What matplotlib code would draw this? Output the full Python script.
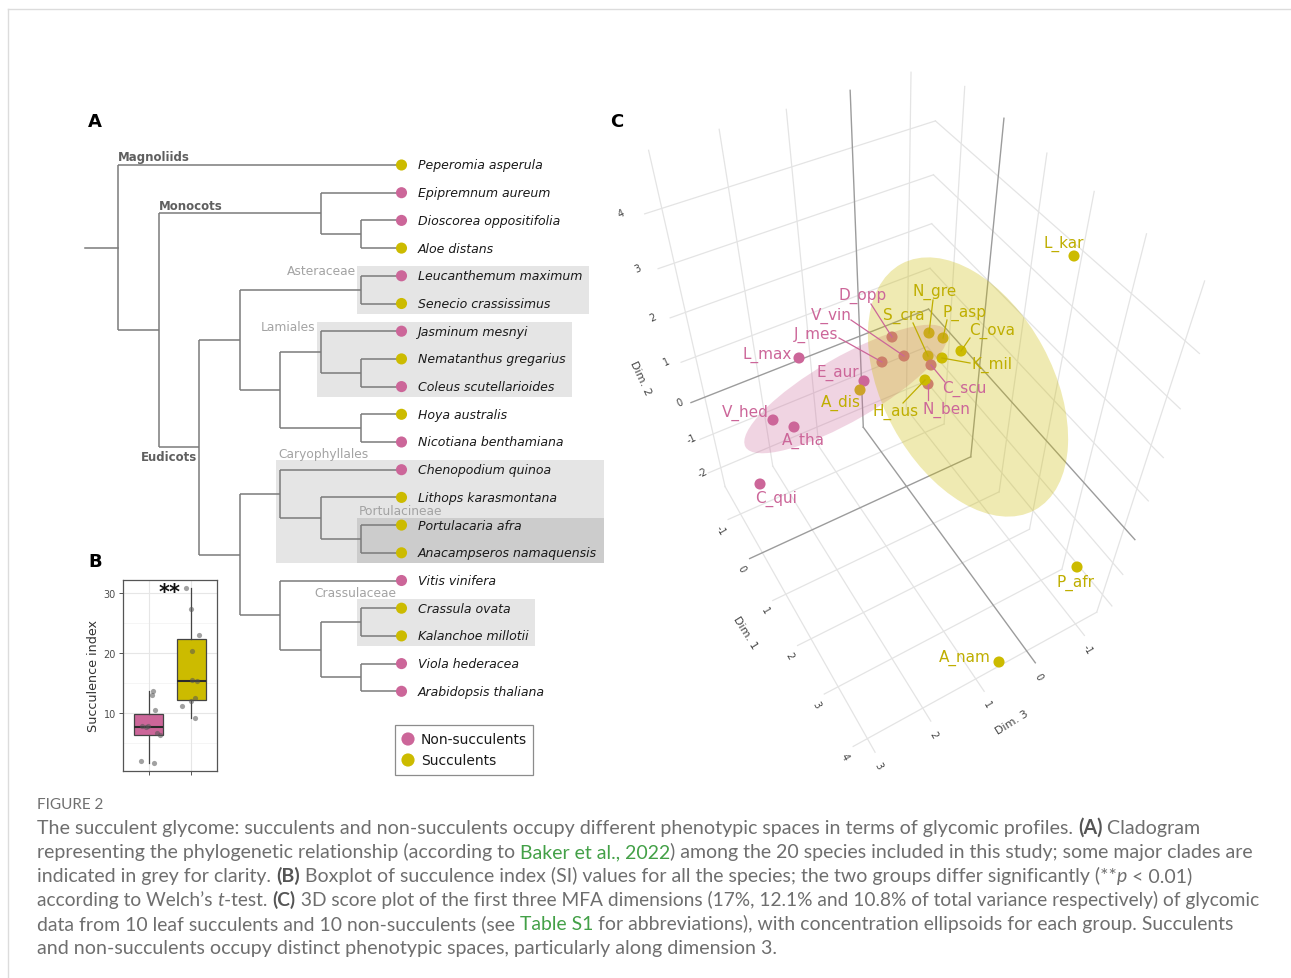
import numpy as np
import matplotlib
matplotlib.use("Agg")
import matplotlib.pyplot as plt
from matplotlib.patches import Ellipse, Rectangle

W, H = 1291, 979

# ------------------------------------------------------------------ data
PINK = "#CC6699"
YELLOW = "#CCBB00"
YELLOW_TXT = "#BFAE00"

tree = ["Peperomia asperula",
        [["Epipremnum aureum", ["Dioscorea oppositifolia", "Aloe distans"]],
         [[["Leucanthemum maximum", "Senecio crassissimus"],
           [["Jasminum mesnyi", ["Nematanthus gregarius", "Coleus scutellarioides"]],
            ["Hoya australis", "Nicotiana benthamiana"]]],
          [["Chenopodium quinoa", ["Lithops karasmontana",
                                   ["Portulacaria afra", "Anacampseros namaquensis"]]],
           ["Vitis vinifera", [["Crassula ovata", "Kalanchoe millotii"],
                               ["Viola hederacea", "Arabidopsis thaliana"]]]]]]]

succulent_species = ["Peperomia asperula", "Aloe distans", "Senecio crassissimus",
                     "Nematanthus gregarius", "Hoya australis", "Lithops karasmontana",
                     "Portulacaria afra", "Anacampseros namaquensis", "Crassula ovata",
                     "Kalanchoe millotii"]

minor_clades = ["Asteraceae", "Lamiales", "Caryophyllales", "Portulacineae", "Crassulaceae"]
minor_clade_tips = [("Leucanthemum maximum", "Senecio crassissimus"),
                    ("Jasminum mesnyi", "Coleus scutellarioides"),
                    ("Chenopodium quinoa", "Anacampseros namaquensis"),
                    ("Portulacaria afra", "Anacampseros namaquensis"),
                    ("Crassula ovata", "Kalanchoe millotii")]

groups = ["Non-succulents", "Succulents"]
si_non = [13.6, 13.0, 10.5, 7.9, 7.8, 7.6, 6.6, 6.3, 2.0, 1.7]
si_suc = [30.8, 27.3, 23.0, 20.3, 15.5, 15.3, 12.45, 12.05, 11.1, 9.2]
si_non_jitter = [1.094, 1.071, 1.149, 0.852, 0.977, 0.94, 1.203, 1.266, 0.814, 1.125]
si_suc_jitter = [1.874, 1.991, 2.186, 2.007, 2.007, 2.139, 2.085, 1.991, 1.773, 2.085]

# MFA scores as projected on the rendered 3D scene (screen px)
mfa_codes = ["L_max", "D_opp", "V_vin", "J_mes", "E_aur", "A_dis", "V_hed", "A_tha", "C_qui",
             "S_cra", "N_gre", "P_asp", "C_ova", "K_mil", "C_scu", "N_ben", "H_aus",
             "L_kar", "P_afr", "A_nam"]
mfa_succulent = [0, 0, 0, 0, 0, 1, 0, 0, 0, 1, 1, 1, 1, 1, 0, 0, 1, 1, 1, 1]
mfa_sx = [799, 892, 904, 882, 864, 860, 773, 794, 760, 928, 929, 943, 961, 942, 931, 928, 925,
          1074, 1077, 999]
mfa_sy = [359, 338, 357, 363, 382, 391, 421, 428, 485, 357, 334, 339, 352, 359, 366, 385, 381,
          257, 568, 663]
# concentration ellipsoids (projected): centre x, centre y, major, minor, angle
ell_non = [846, 390, 232, 64, -30]
ell_suc = [968, 388, 280, 170, 61.6]

# ------------------------------------------------------------------ layout
fig = plt.figure(figsize=(W / 100, H / 100), dpi=100)
R = fig.canvas.get_renderer()

axP = fig.add_axes([0, 0, 1, 1])
axP.set_xlim(0, W)
axP.set_ylim(H, 0)
axP.axis("off")


def text_w(ax, s, kw):
    t1 = ax.text(0, 0, "|" + s + "|", **kw)
    t2 = ax.text(0, 0, "||", **kw)
    w = t1.get_window_extent(R).width - t2.get_window_extent(R).width
    t1.remove()
    t2.remove()
    return w


# outer frame
axP.plot([8, W], [10, 10], color="#dcdcdc", lw=1)
axP.plot([8, 8], [10, H], color="#dcdcdc", lw=1)

# panel letters
for lab, (x, y) in {"A": (95, 122), "B": (95, 562), "C": (617, 122)}.items():
    axP.text(x, y, lab, fontsize=13, fontweight="bold", ha="center", va="center",
             family="DejaVu Sans")

# ------------------------------------------------------------------ panel A
TIP_DEPTH = 8
X0, DX = 118, 40.5
Y0, DY = 166, 27.7
axA = fig.add_axes([0, 0, 1, 1])
axA.patch.set_alpha(0)
axA.axis("off")
axA.set_xlim(1 - X0 / DX, 1 + (W - X0) / DX)
axA.set_ylim((H - Y0) / DY, -Y0 / DY)

tip_order = []
segments = []
node_pos = {}


def layout(node):
    if isinstance(node, str):
        tip_order.append(node)
        return TIP_DEPTH, len(tip_order) - 1, 0, node, node
    kids = [layout(k) for k in node]
    h = max(k[2] for k in kids) + 1
    x = TIP_DEPTH - h
    y = (kids[0][1] + kids[-1][1]) / 2
    segments.append(((x, x), (kids[0][1], kids[-1][1])))
    for k in kids:
        segments.append(((x, k[0]), (k[1], k[1])))
    node_pos[(kids[0][3], kids[-1][4])] = (x, y)
    return x, y, h, kids[0][3], kids[-1][4]


root = layout(tree)
LINE = "#7a7a7a"
for xs, ys in segments:
    axA.plot(xs, ys, color=LINE, lw=1.1, solid_capstyle="butt", zorder=2)
axA.plot([1 - 33 / DX, root[0]], [root[1], root[1]], color=LINE, lw=1.1, zorder=2)

tip_y = np.arange(len(tip_order))
tip_col = [YELLOW if t in succulent_species else PINK for t in tip_order]
axA.scatter([TIP_DEPTH] * len(tip_order), tip_y, s=64, c=tip_col, zorder=3, linewidths=0)
tipkw = dict(fontsize=9, style="italic", color="#1a1a1a", family="DejaVu Sans")
lab_x = TIP_DEPTH + 16 / DX
tip_right = {}
for i, t in enumerate(tip_order):
    axA.text(lab_x, i, t, ha="left", va="center", zorder=4, **tipkw)
    tip_right[t] = lab_x + text_w(axA, t, tipkw) / DX

# clade boxes
for name, (a, b) in zip(minor_clades, minor_clade_tips):
    nx, ny = node_pos[(a, b)]
    i0, i1 = tip_order.index(a), tip_order.index(b)
    left = nx - 4 / DX
    right = max(tip_right[t] for t in tip_order[i0:i1 + 1]) + 7 / DX
    top = i0 - (0.26 if name == "Portulacineae" else 0.35)
    bottom = i1 + 0.38
    fc = "#cccccc" if name == "Portulacineae" else "#e5e5e5"
    axA.add_patch(Rectangle((left, top), right - left, bottom - top, fc=fc, ec="none",
                            zorder=0 if name != "Portulacineae" else 0.5))
    ckw = dict(fontsize=8.8, color="#a3a3a3", va="center", family="DejaVu Sans", zorder=4)
    if name in ("Asteraceae", "Lamiales"):
        axA.text(left - 1 / DX, i0 - 5 / DY, name, ha="right", **ckw)
    elif name == "Crassulaceae":
        axA.text(left - 2 / DX, top - 6 / DY, name, ha="center", **ckw)
    else:
        axA.text(left + 2 / DX, top - 7 / DY, name, ha="left", **ckw)

# major clades
mkw = dict(fontsize=8.5, fontweight="bold", color="#5f5f5f", va="center", family="DejaVu Sans")
axA.text(root[0], 0 - 8 / DY, "Magnoliids", ha="left", **mkw)
mx, my = node_pos[("Epipremnum aureum", "Aloe distans")]
px_, py_ = node_pos[("Epipremnum aureum", "Arabidopsis thaliana")]
axA.text(px_, my - 8 / DY, "Monocots", ha="left", **mkw)
ex, ey = node_pos[("Leucanthemum maximum", "Arabidopsis thaliana")]
axA.text(ex - 2 / DX, ey + 9 / DY, "Eudicots", ha="right", **mkw)

# legend
axP.add_patch(Rectangle((395, 726), 138, 50, fc="white", ec="#8c8c8c", lw=0.9, zorder=5))
axP.scatter([408, 408], [740, 761], s=90, c=[PINK, YELLOW], zorder=6, linewidths=0)
for yy, g in zip([740, 761], groups):
    axP.text(421, yy, g, fontsize=10, va="center", ha="left", color="#1a1a1a", zorder=6,
             family="DejaVu Sans")

# ------------------------------------------------------------------ panel B
axB = fig.add_axes([123 / W, 1 - 772 / H, 94 / W, (772 - 581) / H])
axB.set_xlim(0.4, 2.6)
axB.set_ylim(0.33, 32.17)
for v in [5, 15, 25]:
    axB.axhline(v, color="#f2f2f2", lw=0.5, zorder=0)
for v in [10, 20, 30]:
    axB.axhline(v, color="#e6e6e6", lw=0.8, zorder=0)
for v in [1, 2]:
    axB.axvline(v, color="#e6e6e6", lw=0.8, zorder=0)
bp = axB.boxplot([si_non, si_suc], positions=[1, 2], widths=0.68, patch_artist=True,
                 showfliers=False, showcaps=False,
                 medianprops=dict(color="#2b2b2b", lw=1.5),
                 whiskerprops=dict(color="#444444", lw=0.9),
                 boxprops=dict(edgecolor="#444444", lw=0.9))
for patch, col in zip(bp["boxes"], [PINK, YELLOW]):
    patch.set_facecolor(col)
    patch.set_zorder(2)
axB.scatter(si_non_jitter, si_non, s=14, color="#555555", alpha=0.55, zorder=3, linewidths=0)
axB.scatter(si_suc_jitter, si_suc, s=14, color="#555555", alpha=0.55, zorder=3, linewidths=0)
axB.text(1.5, 30.2, "**", ha="center", va="center", fontsize=15, fontweight="bold",
         color="#111111")
axB.set_xticks([1, 2])
axB.set_xticklabels(["", ""])
axB.set_yticks([10, 20, 30])
axB.tick_params(axis="both", length=3, color="#555555", labelsize=7, labelcolor="#4d4d4d",
                width=0.7, pad=2)
for s in axB.spines.values():
    s.set_color("#555555")
    s.set_linewidth(0.9)
axB.set_ylabel("Succulence index", fontsize=9.2, color="#333333", labelpad=3)

# ------------------------------------------------------------------ panel C (3D scene)
A1, A2 = -1.75, 4.25
B1, B2 = -2.6, 5.1
C1, C2 = -1.45, 3.25
B2_DRAW = 4.95
calib = [((A1, 4, 0), (849, 139)), ((A1, 0, 0), (860, 333)), ((A1, 4, 3), (657, 199)),
         ((A1, 0, 3), (708, 394)), ((0, 0, C1), (981, 361)), ((0, 4, C1), (1001, 172)),
         ((4, 0, C1), (1126, 526)), ((4, 4, C1), (1196, 338)), ((0, B1, 0), (905, 492)),
         ((0, B1, 3), (771, 556)), ((4, B1, 0), (1022, 654)), ((4, B1, 3), (870, 742)),
         ((A1, B1, 0), (863, 433)), ((0, B1, C1), (970, 462)), ((4, B1, C1), (1093, 613)),
         ((A1, B2, 0), (847, 90)), ((0, B2, C1), (1007, 118)), ((A1, B2, 3), (642, 150)),
         ((A2, B1, 0), (1028, 663)), ((A2, B1, 3), (875, 751)), ((A1, 0, C1), (931, 305)),
         ((A1, 4, C1), (937, 112)), ((-1, B2, C1), (965, 85)), ((A1, B2, -1), (908, 76))]


def fit_camera(pairs):
    X3 = np.array([p[0] for p in pairs], float)
    x2 = np.array([p[1] for p in pairs], float)
    m3 = X3.mean(0)
    s3 = np.sqrt(3) / np.mean(np.linalg.norm(X3 - m3, axis=1))
    T3 = np.diag([s3, s3, s3, 1.0])
    T3[:3, 3] = -s3 * m3
    m2 = x2.mean(0)
    s2 = np.sqrt(2) / np.mean(np.linalg.norm(x2 - m2, axis=1))
    T2 = np.diag([s2, s2, 1.0])
    T2[:2, 2] = -s2 * m2
    Xn = (T3 @ np.c_[X3, np.ones(len(X3))].T).T
    xn = (T2 @ np.c_[x2, np.ones(len(x2))].T).T
    rows = []
    for Xh, (u, v, _) in zip(Xn, xn):
        rows.append(np.r_[Xh, np.zeros(4), -u * Xh])
        rows.append(np.r_[np.zeros(4), Xh, -v * Xh])
    _, _, Vt = np.linalg.svd(np.array(rows))
    return np.linalg.inv(T2) @ Vt[-1].reshape(3, 4) @ T3


P = fit_camera(calib)


def project(pts):
    pts = np.atleast_2d(np.asarray(pts, float))
    h = P @ np.c_[pts, np.ones(len(pts))].T
    return (h[:2] / h[2]).T


def seg(p, q, zero=False):
    pts = project([p, q])
    axP.plot(pts[:, 0], pts[:, 1], color="#9c9c9c" if zero else "#e4e4e4",
             lw=1.0 if zero else 0.9, zorder=1.5 if zero else 1)


for d3 in range(-1, 4):
    seg((A1, B1, d3), (A1, B2_DRAW, d3), d3 == 0)
    seg((A1, B1, d3), (A2, B1, d3), d3 == 0)
for d2 in range(-2, 5):
    seg((A1, d2, C1), (A1, d2, C2), d2 == 0)
    seg((A1, d2, C1), (A2, d2, C1), d2 == 0)
for d1 in range(-1, 5):
    seg((d1, B1, C1), (d1, B2_DRAW, C1), d1 == 0)
    seg((d1, B1, C1), (d1, B1, C2), d1 == 0)

tkw = dict(fontsize=7, color="#444444", ha="center", va="center", family="DejaVu Sans")
for d2 in range(-2, 5):
    x, y = project((A1, d2, C2))[0]
    axP.text(x - 13 - 3 * (d2 - 0.5), y - 1, str(d2), rotation=25, **tkw)
for d1 in range(-1, 5):
    x, y = project((d1, B1, C2))[0]
    axP.text(x - 8, y + 10, str(d1), rotation=-60, **tkw)
for d3 in range(-1, 4):
    x, y = project((A2, B1, d3))[0]
    axP.text(x + 3, y + 13, str(d3), rotation=-60, **tkw)
akw = dict(fontsize=8, color="#444444", ha="center", va="center", family="DejaVu Sans")
axP.text(640, 378, "Dim. 2", rotation=-65, **akw)
axP.text(745, 633, "Dim. 1", rotation=-58, **akw)
axP.text(1012, 723, "Dim. 3", rotation=32, **akw)

# points
mcol = [YELLOW if s else PINK for s in mfa_succulent]
axP.scatter(mfa_sx, mfa_sy, s=64, c=mcol, zorder=3, linewidths=0)
# ellipses
for e, col, al in [(ell_non, PINK, 0.28), (ell_suc, YELLOW, 0.3)]:
    axP.add_patch(Ellipse((e[0], e[1]), e[2], e[3], angle=e[4], fc=col, ec="none",
                          alpha=al, zorder=4))

label_pos = {"L_max": (767, 355), "D_opp": (863, 296), "V_vin": (831, 316),
             "J_mes": (816, 335), "E_aur": (838, 373), "A_dis": (841, 403),
             "V_hed": (745, 413), "A_tha": (803, 441), "C_qui": (776, 499),
             "S_cra": (904, 316), "N_gre": (935, 292), "P_asp": (965, 313),
             "C_ova": (992, 331), "K_mil": (992, 365), "C_scu": (964, 389),
             "N_ben": (946, 410), "H_aus": (896, 412), "L_kar": (1064, 244),
             "P_afr": (1075, 583), "A_nam": (965, 658)}
leader_from = {"D_opp": (871, 305), "V_vin": (851, 321), "J_mes": (839, 339),
               "S_cra": (913, 324), "N_gre": (933, 301), "P_asp": (947, 321),
               "C_ova": (970, 339), "K_mil": (970, 364), "C_scu": (945, 383),
               "N_ben": (928, 401), "H_aus": (903, 404)}
for code, s, x, y in zip(mfa_codes, mfa_succulent, mfa_sx, mfa_sy):
    col = YELLOW_TXT if s else PINK
    if code in leader_from:
        lx, ly = leader_from[code]
        axP.plot([lx, x], [ly, y], color=col, lw=0.9, zorder=5)
    tx, ty = label_pos[code]
    axP.text(tx, ty, code, fontsize=11, color=col, ha="center", va="center", zorder=6,
             family="DejaVu Sans")

# ------------------------------------------------------------------ caption
axP.text(37, 805, "FIGURE 2", fontsize=11, color="#707070", ha="left", va="center",
         family=["Lato", "DejaVu Sans"])
BASE_SIZE = 14.1
base = dict(fontsize=BASE_SIZE, color="#6e6e6e", family=["Lato", "DejaVu Sans"])
Bd = dict(fontweight="bold", color="#555555")
Gr = dict(color="#43a047")
It = dict(style="italic")
cap_lines = [
    [("The succulent glycome: succulents and non-succulents occupy different phenotypic spaces in terms of glycomic profiles. ", {}), ("(A)", Bd), (" Cladogram", {})],
    [("representing the phylogenetic relationship (according to ", {}), ("Baker et al., 2022", Gr), (") among the 20 species included in this study; some major clades are", {})],
    [("indicated in grey for clarity. ", {}), ("(B)", Bd), (" Boxplot of succulence index (SI) values for all the species; the two groups differ significantly (**", {}), ("p", It), (" < 0.01)", {})],
    [("according to Welch\u2019s ", {}), ("t", It), ("-test. ", {}), ("(C)", Bd), (" 3D score plot of the first three MFA dimensions (17%, 12.1% and 10.8% of total variance respectively) of glycomic", {})],
    [("data from 10 leaf succulents and 10 non-succulents (see ", {}), ("Table S1", Gr), (" for abbreviations), with concentration ellipsoids for each group. Succulents", {})],
    [("and non-succulents occupy distinct phenotypic spaces, particularly along dimension 3.", {})],
]
cap_line_end = [1199, 1253, 1183, 1257, 1233, 776]
CAP_X = 37
for k, runs in enumerate(cap_lines):
    total = 0
    for s, st in runs:
        kw = dict(base)
        kw.update(st)
        total += text_w(axP, s, kw)
    size = BASE_SIZE * (cap_line_end[k] - CAP_X) / total
    # refine once (glyph hinting makes width not exactly linear in size)
    total2 = 0
    for s, st in runs:
        kw = dict(base)
        kw.update(st)
        kw["fontsize"] = size
        total2 += text_w(axP, s, kw)
    size = size * (cap_line_end[k] - CAP_X) / total2
    x = CAP_X
    y = 834 + 24 * k
    for s, st in runs:
        kw = dict(base)
        kw.update(st)
        kw["fontsize"] = size
        axP.text(x, y, s, ha="left", va="baseline", **kw)
        x += text_w(axP, s, kw)

fig.savefig("out.png", dpi=100)
